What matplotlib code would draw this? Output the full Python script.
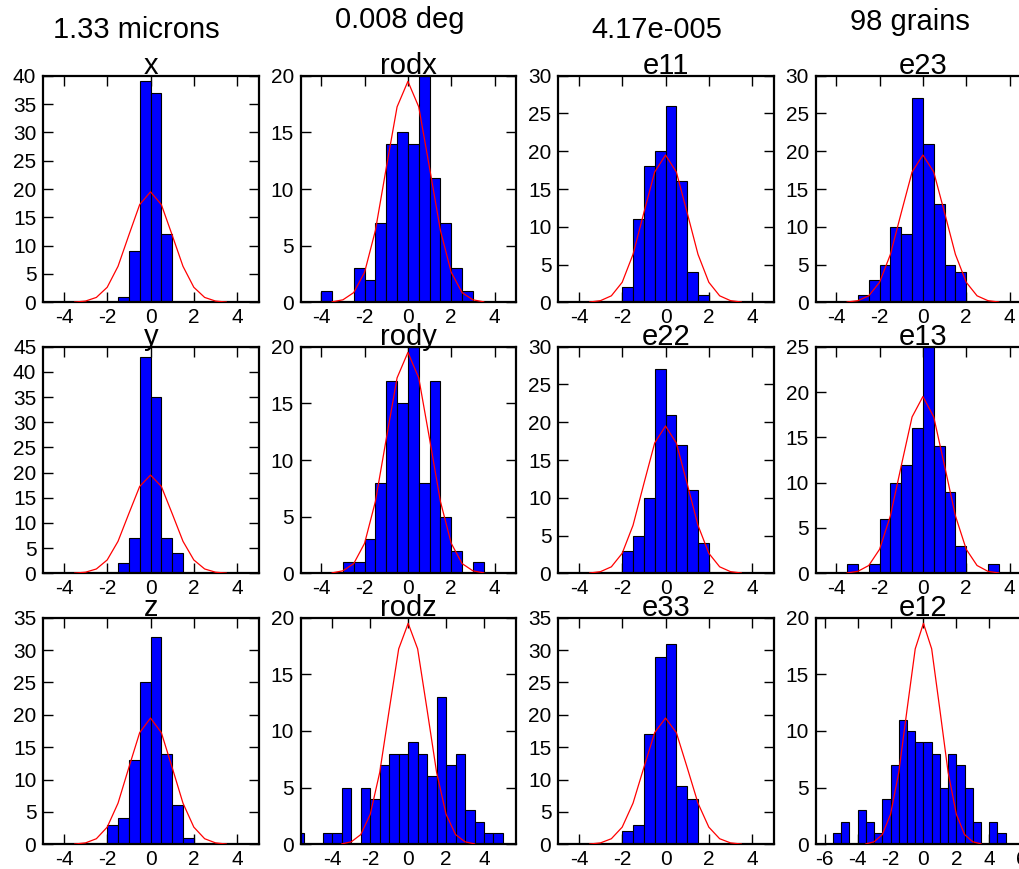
import numpy as np
import matplotlib
matplotlib.use('Agg')
import matplotlib.pyplot as plt

plt.rcParams['font.family'] = ['Liberation Sans', 'DejaVu Sans']
plt.rcParams['axes.unicode_minus'] = False

# ---- text ----
headers = ['1.33 microns', '0.008 deg', '4.17e-005', '98 grains']
titles = [['x', 'rodx', 'e11', 'e23'],
          ['y', 'rody', 'e22', 'e13'],
          ['z', 'rodz', 'e33', 'e12']]

# ---- histogram data: left edge of first bin, counts per 0.5-wide bin ----
bin_width = 0.5
x_start, x_counts = -1.5, [1, 9, 39, 37, 12]
y_start, y_counts = -1.5, [2, 7, 43, 35, 7, 4]
z_start, z_counts = -2.0, [3, 4, 13, 25, 32, 14, 6, 1]
rodx_start, rodx_counts = -4.0, [1, 0, 0, 3, 2, 7, 14, 15, 14, 20, 11, 7, 3, 1]
rody_start, rody_counts = -3.0, [1, 1, 3, 8, 17, 15, 20, 8, 17, 5, 2, 0, 1]
rodz_start, rodz_counts = -6.0, [1, 0, 0, 1, 1, 5, 0, 5, 4, 7, 8, 8, 9, 8, 6, 13, 7, 8, 3, 2, 1, 1]
e11_start, e11_counts = -2.0, [2, 11, 18, 20, 26, 16, 4, 1]
e22_start, e22_counts = -2.0, [3, 5, 10, 27, 21, 17, 11, 4]
e33_start, e33_counts = -2.0, [2, 3, 17, 29, 31, 9, 7]
e23_start, e23_counts = -3.0, [1, 3, 5, 10, 9, 27, 21, 13, 5, 4]
e13_start, e13_counts = -3.5, [1, 0, 1, 6, 10, 12, 16, 25, 14, 9, 3, 0, 0, 1]
e12_start, e12_counts = -5.5, [1, 2, 0, 3, 2, 1, 4, 7, 11, 10, 9, 9, 8, 5, 8, 7, 5, 2, 0, 2, 1]

# reference normal curve (same in every panel)
curve_x = [-3.5, -3.0, -2.5, -2.0, -1.5, -1.0, -0.5, 0.0, 0.5, 1.0, 1.5, 2.0, 2.5, 3.0, 3.5]
curve_y = [0.04, 0.22, 0.86, 2.65, 6.35, 11.86, 17.25, 19.5, 17.25, 11.86, 6.35, 2.65, 0.86, 0.22, 0.04]

# y-axis maxima
y_max = {'x': 40, 'y': 45, 'z': 35, 'rodx': 20, 'rody': 20, 'rodz': 20,
         'e11': 30, 'e22': 30, 'e33': 35, 'e23': 30, 'e13': 25, 'e12': 20}

hist = {'x': (x_start, x_counts), 'y': (y_start, y_counts), 'z': (z_start, z_counts),
        'rodx': (rodx_start, rodx_counts), 'rody': (rody_start, rody_counts),
        'rodz': (rodz_start, rodz_counts), 'e11': (e11_start, e11_counts),
        'e22': (e22_start, e22_counts), 'e33': (e33_start, e33_counts),
        'e23': (e23_start, e23_counts), 'e13': (e13_start, e13_counts),
        'e12': (e12_start, e12_counts)}

W, H = 1019, 869
fig = plt.figure(figsize=(W / 100, H / 100), dpi=100)

col_left = [43.3, 300.7, 558.3, 815.7]
row_top = [75.7, 346.7, 617.7]
ax_w, ax_h = 215.5, 226.6

for r in range(3):
    for c in range(4):
        name = titles[r][c]
        ax = fig.add_axes([col_left[c] / W, (H - row_top[r] - ax_h) / H, ax_w / W, ax_h / H])
        start, counts = hist[name]
        lefts = start + bin_width * np.arange(len(counts))
        ax.bar(lefts, counts, width=bin_width, align='edge', color='#0000ff',
               edgecolor='black', linewidth=0.8, zorder=2)
        ax.plot(curve_x, curve_y, color='#ff0000', linewidth=0.9, zorder=3)
        if name == 'rodz':
            ax.set_xlim(-5.67, 5.7)
            ax.set_xticks([-4, -2, 0, 2, 4])
        elif name == 'e12':
            ax.set_xlim(-6.55, 6.55)
            ax.set_xticks([-6, -4, -2, 0, 2, 4, 6])
        else:
            ax.set_xlim(-4.95, 5.0)
            ax.set_xticks([-4, -2, 0, 2, 4])
        ax.set_ylim(0, y_max[name])
        ax.set_yticks(np.arange(0, y_max[name] + 1, 5))
        ax.tick_params(direction='in', top=True, right=True, length=7, width=1,
                       labelsize=15, pad=4)
        ax.tick_params(axis='y', pad=5)
        for s in ax.spines.values():
            s.set_linewidth(1.6)
        ax.set_title(name, fontsize=21, pad=1)

# column header texts
hdr_pos = [(136, 38), (400, 28), (657, 38), (910, 30)]
for txt, (px, py) in zip(headers, hdr_pos):
    fig.text(px / W, 1 - py / H, txt, fontsize=21, ha='center', va='baseline')

fig.savefig('out.png', dpi=100)
